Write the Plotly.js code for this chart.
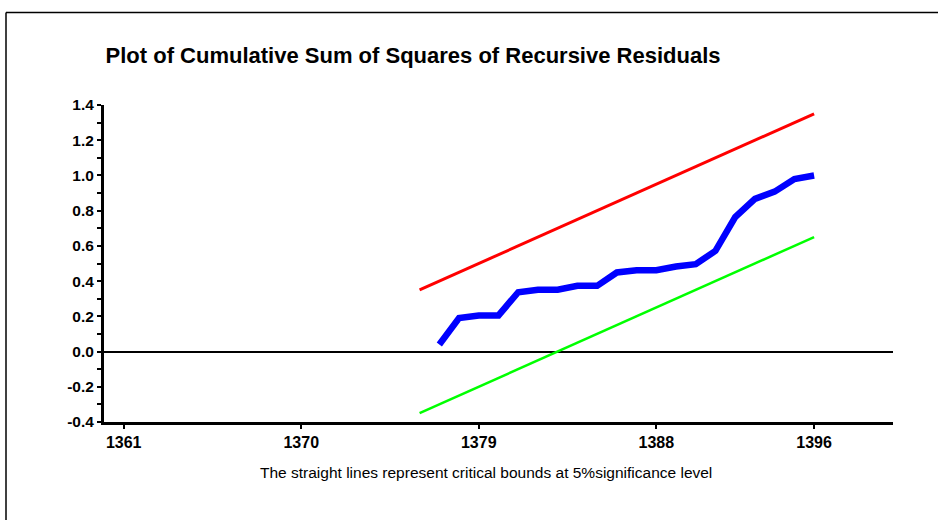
<!DOCTYPE html>
<html>
<head>
<meta charset="utf-8">
<script src="https://cdn.plot.ly/plotly-3.0.1.min.js"></script>
<style>html,body{margin:0;padding:0;background:#fff;}#chart{width:938px;height:520px;}</style>
</head>
<body>
<div id="chart"></div>
<script>
// Data
var boundYears = [1376,1377,1378,1379,1380,1381,1382,1383,1384,1385,1386,1387,1388,1389,1390,1391,1392,1393,1394,1395,1396];
var upperBound = [0.35,0.40,0.45,0.50,0.55,0.60,0.65,0.70,0.75,0.80,0.85,0.90,0.95,1.00,1.05,1.10,1.15,1.20,1.25,1.30,1.35];
var lowerBound = [-0.35,-0.30,-0.25,-0.20,-0.15,-0.10,-0.05,0.00,0.05,0.10,0.15,0.20,0.25,0.30,0.35,0.40,0.45,0.50,0.55,0.60,0.65];
var cusumYears = [1377,1378,1379,1380,1381,1382,1383,1384,1385,1386,1387,1388,1389,1390,1391,1392,1393,1394,1395,1396];
var cusumsq = [0.04,0.19,0.205,0.205,0.337,0.351,0.351,0.373,0.373,0.449,0.462,0.462,0.483,0.496,0.572,0.763,0.867,0.908,0.980,1.0];
var xTickVals = [1361,1370,1379,1388,1396];
var xTickText = ['1361','1370','1379','1388','1396'];
var yTickVals = [-0.4,-0.2,0,0.2,0.4,0.6,0.8,1.0,1.2,1.4];
var yTickText = ['-0.4','-0.2','0.0','0.2','0.4','0.6','0.8','1.0','1.2','1.4'];
var titleText = 'Plot of Cumulative Sum of Squares of Recursive Residuals';
var noteText = 'The straight lines represent critical bounds at 5%significance level';

var traces = [
  {x: boundYears, y: upperBound, type: 'scatter', mode: 'lines', line: {color: '#ff0000', width: 3}, hoverinfo: 'skip'},
  {x: boundYears, y: lowerBound, type: 'scatter', mode: 'lines', line: {color: '#00ff00', width: 2.5}, hoverinfo: 'skip'},
  {x: cusumYears, y: cusumsq, type: 'scatter', mode: 'lines', line: {color: '#0000ff', width: 6.5}, hoverinfo: 'skip'}
];

var font = 'Liberation Sans, Arial, sans-serif';
var layout = {
  width: 938, height: 520,
  paper_bgcolor: '#ffffff', plot_bgcolor: '#ffffff',
  showlegend: false,
  margin: {l: 104, r: 45, t: 105, b: 98, pad: 0},
  font: {family: font, color: '#000'},
  title: {text: '<b>' + titleText + '</b>', font: {family: font, size: 22, color: '#000'},
          x: 0.002, xanchor: 'left', xref: 'paper', y: 1 - 55/520, yref: 'container', yanchor: 'middle'},
  xaxis: {
    range: [1360, 1400], showgrid: false, zeroline: false,
    showline: true, linecolor: '#000', linewidth: 2.5,
    tickmode: 'array', tickvals: xTickVals, ticktext: xTickText.map(function(t){return '<b>' + t + '</b>';}),
    ticks: 'outside', ticklen: 4, tickwidth: 2, tickcolor: '#000',
    tickfont: {family: font, size: 16, color: '#000'}
  },
  yaxis: {
    range: [-0.4, 1.4], showgrid: false,
    zeroline: true, zerolinecolor: '#000', zerolinewidth: 2,
    showline: true, linecolor: '#000', linewidth: 3,
    tickmode: 'array', tickvals: yTickVals, ticktext: yTickText.map(function(t){return '<b>' + t + '</b>';}),
    ticks: 'outside', ticklen: 4, tickwidth: 2, tickcolor: '#000',
    minor: {dtick: 0.1, tick0: -0.4, ticks: 'outside', ticklen: 4, tickwidth: 2, tickcolor: '#000'},
    tickfont: {family: font, size: 15.5, color: '#000'}
  },
  xaxis2: {
    overlaying: 'x', anchor: 'y', side: 'bottom', range: [1360, 1400],
    showgrid: false, zeroline: false, showline: false, showticklabels: false,
    tickmode: 'array', tickvals: xTickVals,
    ticks: 'inside', ticklen: 4, tickwidth: 2, tickcolor: '#000'
  },
  yaxis2: {
    overlaying: 'y', anchor: 'x', side: 'left', range: [-0.4, 1.4],
    showgrid: false, zeroline: false, showline: false, showticklabels: false,
    tickmode: 'linear', tick0: -0.4, dtick: 0.1,
    ticks: 'inside', ticklen: 4, tickwidth: 2, tickcolor: '#000'
  },
  annotations: [{
    text: noteText, xref: 'paper', yref: 'paper', x: (486-104)/789, y: -(473-422)/317,
    xanchor: 'center', yanchor: 'middle', showarrow: false,
    font: {family: font, size: 15.5, color: '#000'}
  }],
  shapes: [
    {type: 'line', xref: 'paper', yref: 'paper', x0: -98/789, x1: 840/789, y0: (520-12.5-98)/317, y1: (520-12.5-98)/317, line: {color: '#000', width: 1.5}},
    {type: 'line', xref: 'paper', yref: 'paper', x0: -98/789, x1: -98/789, y0: (520-12.5-98)/317, y1: -98/317, line: {color: '#000', width: 1.5}}
  ]
};

Plotly.newPlot('chart', traces, layout, {displayModeBar: false, staticPlot: true});
</script>
</body>
</html>
